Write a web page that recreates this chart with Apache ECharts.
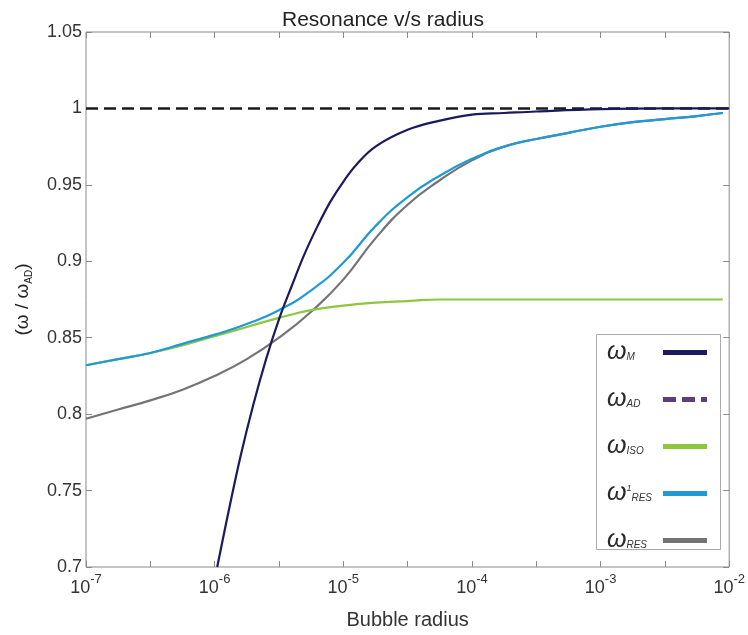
<!DOCTYPE html>
<html>
<head>
<meta charset="utf-8">
<title>Resonance v/s radius</title>
<script src="https://cdn.jsdelivr.net/npm/echarts@6/dist/echarts.min.js"></script>
<style>
  html, body { margin: 0; padding: 0; background: #fff; }
  #chart { width: 748px; height: 635px; }
</style>
</head>
<body>
<div id="chart"></div>
<script>
// x values are log10 of the bubble radius, y values are omega / omega_AD
const expM = [-5.98, -5.9, -5.8, -5.7, -5.6, -5.5, -5.4, -5.3, -5.2, -5.1, -5.0, -4.9, -4.75, -4.5, -4.25, -4.0, -3.75, -3.5, -3.0, -2.5, -2.0];
const valM = [0.700, 0.733, 0.772, 0.806, 0.836, 0.862, 0.884, 0.905, 0.923, 0.939, 0.952, 0.963, 0.975, 0.986, 0.992, 0.996, 0.997, 0.998, 0.9995, 1.0, 1.0];

const expAD = [-7, -2];
const valAD = [1, 1];

const expISO = [-7.0, -6.75, -6.5, -6.25, -6.0, -5.75, -5.5, -5.25, -5.0, -4.75, -4.5, -4.25, -4.0, -3.0, -2.05];
const valISO = [0.832, 0.836, 0.840, 0.845, 0.851, 0.857, 0.863, 0.868, 0.871, 0.873, 0.874, 0.875, 0.875, 0.875, 0.875];

const expRES1 = [-7.0, -6.75, -6.5, -6.25, -6.0, -5.75, -5.5, -5.25, -5.0, -4.75, -4.5, -4.25, -4.0, -3.75, -3.5, -3.25, -3.0, -2.75, -2.5, -2.25, -2.05];
const valRES1 = [0.832, 0.836, 0.840, 0.846, 0.852, 0.859, 0.868, 0.881, 0.899, 0.923, 0.942, 0.956, 0.967, 0.975, 0.980, 0.984, 0.988, 0.991, 0.993, 0.995, 0.997];

const expRES = [-7.0, -6.75, -6.5, -6.25, -6.0, -5.75, -5.5, -5.25, -5.0, -4.75, -4.5, -4.25, -4.0, -3.75, -3.5, -3.25, -3.0, -2.75, -2.5, -2.25, -2.05];
const valRES = [0.797, 0.803, 0.809, 0.816, 0.825, 0.836, 0.850, 0.867, 0.888, 0.915, 0.937, 0.953, 0.966, 0.975, 0.980, 0.984, 0.988, 0.991, 0.993, 0.995, 0.997];

const yTicks = [0.7, 0.75, 0.8, 0.85, 0.9, 0.95, 1, 1.05];

const legendNames = ['wM', 'wAD', 'wISO', 'wRES1', 'wRES'];
const legendLabels = {
  wM: '{w|ω}{sub|M}',
  wAD: '{w|ω}{sub|AD}',
  wISO: '{w|ω}{sub|ISO}',
  wRES1: '{w|ω}{sup|1}{sub|RES}',
  wRES: '{w|ω}{sub|RES}'
};

const font = 'Liberation Sans, Arial, sans-serif';
const frame = '#8a8a8a';

const pairs = (xs, ys) => xs.map((x, i) => [x, ys[i]]);

const chart = echarts.init(document.getElementById('chart'));

const option = {
  animation: false,
  backgroundColor: '#fff',
  title: {
    text: 'Resonance v/s radius',
    left: 378,
    textAlign: 'center',
    top: 5,
    textStyle: { fontFamily: font, fontSize: 21, fontWeight: 'normal', color: '#222' }
  },
  grid: {
    left: 86, right: 17, top: 32, bottom: 63,
    show: true, borderColor: frame, borderWidth: 1, backgroundColor: '#fff'
  },
  legend: {
    orient: 'vertical',
    left: 607,
    top: 340,
    padding: 0,
    itemGap: 22,
    itemWidth: 44,
    itemHeight: 5,
    align: 'right',
    selectedMode: false,
    itemStyle: { borderWidth: 0 },
    data: legendNames.map(n => n === 'wAD'
      ? { name: n, icon: 'path://M0,0H13V5H0Z M19,0H32V5H19Z M38,0H44V5H38Z', itemStyle: { color: '#5c3d7e' } }
      : { name: n, icon: 'rect' }),
    formatter: name => legendLabels[name],
    textStyle: {
      width: 51,
      align: 'left',
      color: '#333',
      rich: {
        w: { fontFamily: font, fontSize: 25, fontStyle: 'italic', lineHeight: 20, align: 'left', color: '#2a2a2a' },
        sub: { fontFamily: font, fontSize: 10, fontStyle: 'italic', lineHeight: 8, verticalAlign: 'bottom', align: 'left', color: '#333' },
        sup: { fontFamily: font, fontSize: 9, fontStyle: 'italic', lineHeight: 10, verticalAlign: 'top', align: 'left', color: '#333' }
      }
    }
  },
  graphic: [{
    type: 'rect',
    left: 596, top: 334,
    shape: { width: 124, height: 215 },
    style: { fill: 'rgba(0,0,0,0)', stroke: '#aaa', lineWidth: 1 },
    z: 1
  }],
  xAxis: [{
    type: 'value',
    min: -7, max: -2, interval: 0.5,
    name: 'Bubble radius',
    nameLocation: 'middle',
    nameGap: 43,
    nameTextStyle: { fontFamily: font, fontSize: 20, color: '#333' },
    axisLine: { show: false },
    axisTick: { show: true, inside: true, length: 6, lineStyle: { color: frame } },
    splitLine: { show: false },
    axisLabel: {
      margin: 6,
      formatter: v => Number.isInteger(v) ? '{b|10}{s|' + v + '}' : '',
      rich: {
        b: { fontFamily: font, fontSize: 18, lineHeight: 24, verticalAlign: 'bottom', color: '#333' },
        s: { fontFamily: font, fontSize: 13, lineHeight: 13, verticalAlign: 'top', color: '#333' }
      }
    }
  }, {
    type: 'value', position: 'top',
    min: -7, max: -2, interval: 0.5,
    axisLine: { show: false },
    axisTick: { show: true, inside: true, length: 6, lineStyle: { color: frame } },
    axisLabel: { show: false },
    splitLine: { show: false }
  }],
  yAxis: [{
    type: 'value',
    min: yTicks[0], max: yTicks[yTicks.length - 1], interval: 0.05,
    name: '{a|(ω / ω}{s|AD}{a|)}',
    nameLocation: 'middle',
    nameRotate: 90,
    nameGap: 52,
    nameTextStyle: {
      rich: {
        a: { fontFamily: font, fontSize: 19, lineHeight: 22, color: '#222' },
        s: { fontFamily: font, fontSize: 10, lineHeight: 10, verticalAlign: 'bottom', color: '#222' }
      }
    },
    axisLine: { show: false },
    axisTick: { show: true, inside: true, length: 6, lineStyle: { color: frame } },
    splitLine: { show: false },
    axisLabel: {
      margin: 4,
      fontFamily: font, fontSize: 18, color: '#333',
      formatter: v => String(+v.toFixed(2))
    }
  }, {
    type: 'value', position: 'right',
    min: yTicks[0], max: yTicks[yTicks.length - 1], interval: 0.05,
    axisLine: { show: false },
    axisTick: { show: true, inside: true, length: 6, lineStyle: { color: frame } },
    axisLabel: { show: false },
    splitLine: { show: false }
  }],
  series: [
    {
      name: 'wAD', type: 'line', data: pairs(expAD, valAD),
      showSymbol: false, symbol: 'none',
      itemStyle: { color: '#1a1a1a' },
      lineStyle: { color: '#1a1a1a', width: 2.5, type: [12, 6] },
      z: 2
    },
    {
      name: 'wRES', type: 'line', data: pairs(expRES, valRES),
      smooth: 0.5, showSymbol: false, symbol: 'none',
      itemStyle: { color: '#747474' },
      lineStyle: { color: '#747474', width: 2.2 },
      z: 3
    },
    {
      name: 'wISO', type: 'line', data: pairs(expISO, valISO),
      smooth: 0.5, showSymbol: false, symbol: 'none',
      itemStyle: { color: '#8dc63f' },
      lineStyle: { color: '#8dc63f', width: 2.2 },
      z: 4
    },
    {
      name: 'wRES1', type: 'line', data: pairs(expRES1, valRES1),
      smooth: 0.5, showSymbol: false, symbol: 'none',
      itemStyle: { color: '#1f9ad7' },
      lineStyle: { color: '#1f9ad7', width: 2.2 },
      z: 5
    },
    {
      name: 'wM', type: 'line', data: pairs(expM, valM),
      smooth: 0.4, showSymbol: false, symbol: 'none',
      itemStyle: { color: '#1c1a5e' },
      lineStyle: { color: '#1c1a5e', width: 2.2 },
      z: 6
    }
  ]
};

chart.setOption(option);
</script>
</body>
</html>
